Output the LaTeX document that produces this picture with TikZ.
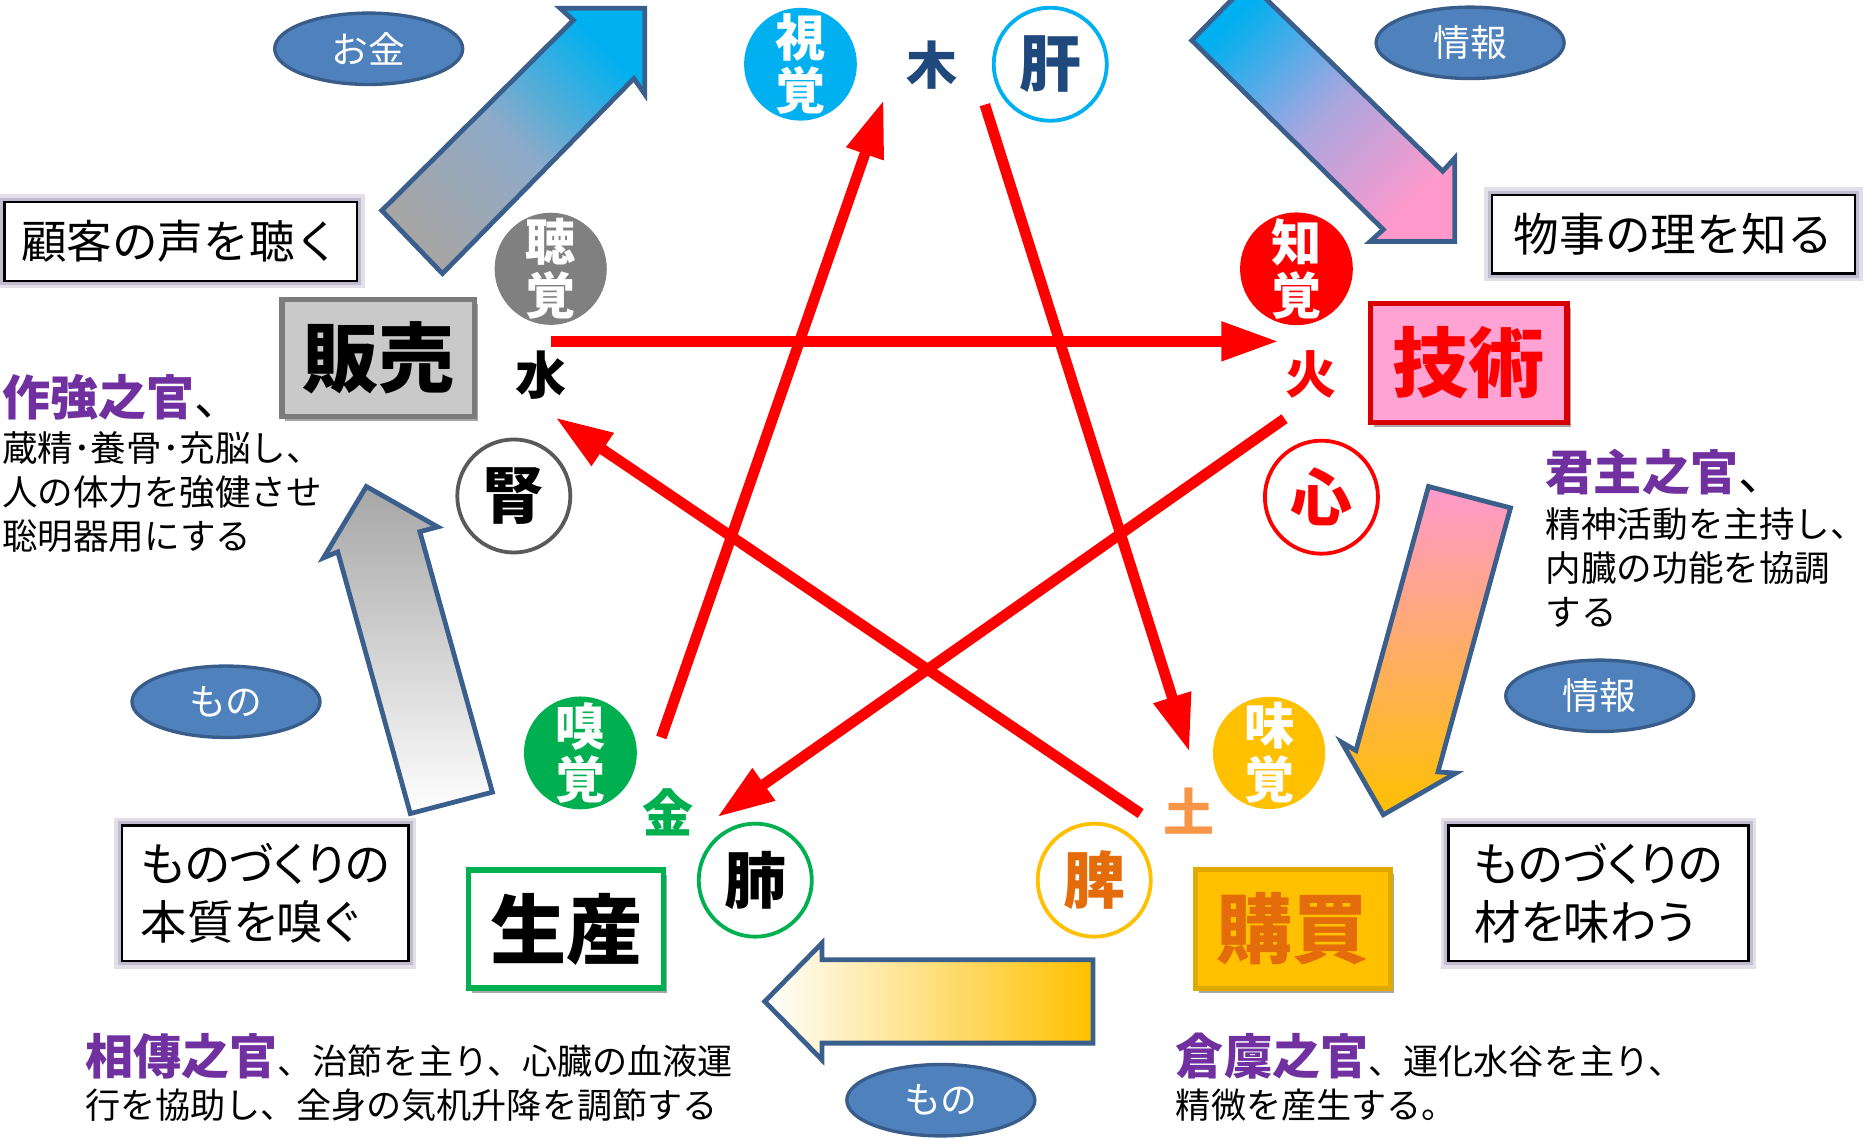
\documentclass[tikz,border=0pt]{standalone}
\usepackage{fontspec}
\setmainfont{Noto Sans CJK JP}
\newfontfamily\jpp{Noto Sans CJK JP}[RawFeature=+palt]
\usetikzlibrary{arrows.meta,shapes.geometric,shadows}
\definecolor{lblue}{HTML}{4F81BD}
\definecolor{lblueb}{HTML}{385D8A}
\definecolor{arrb}{HTML}{3B5F8D}
\definecolor{cyanc}{HTML}{00B0F0}
\definecolor{darkb}{HTML}{1F497D}
\definecolor{grayc}{HTML}{808080}
\definecolor{dgray}{HTML}{5A5A5A}
\definecolor{amber}{HTML}{FFC000}
\definecolor{orangec}{HTML}{E46C0A}
\definecolor{lorange}{HTML}{F79646}
\definecolor{greenc}{HTML}{00B050}
\definecolor{purp}{HTML}{7030A0}
\definecolor{pinkc}{HTML}{FF99CC}
\definecolor{pinkbox}{HTML}{FFA3D4}
\definecolor{glowc}{HTML}{B7B0C8}
\definecolor{redc}{HTML}{FF0000}
\definecolor{graybox}{HTML}{C9C9C9}
\definecolor{graybar}{HTML}{A6A6A6}
\definecolor{graybluemid}{HTML}{8EAAC8}
\definecolor{lavmid}{HTML}{A8A6DF}
\newcommand{\fsz}[2]{\fontsize{#1pt}{#2pt}\selectfont}
\begin{document}
\begin{tikzpicture}[x=0.01cm,y=-0.01cm,
  lab/.style={ellipse,fill=lblue,draw=lblueb,line width=0.028cm,minimum width=1.58cm,minimum height=0.6cm,inner sep=0,text=white,font=\fsz{8.8}{10}},
  sense/.style={circle,fill=#1,minimum size=0.94cm,inner sep=0,text=white,align=center,font=\fsz{12}{12.8}\bfseries},
  organ/.style={circle,draw=#1,line width=0.032cm,fill=white,minimum size=0.95cm,inner sep=0,font=\fsz{14.8}{16}\bfseries},
  elem/.style={inner sep=0,font=\fsz{12.2}{13}\bfseries},
  bevel/.style 2 args={rectangle,fill=#1,draw=#2,line width=0.045cm,inner sep=0,font=\fsz{18.2}{20}\bfseries,drop shadow={shadow xshift=0.03cm,shadow yshift=-0.04cm,opacity=0.35,fill=black}},
  tbox/.style={rectangle,fill=white,draw=black,line width=0.02cm,inner sep=0,align=left,preaction={draw=glowc!40,line width=0.13cm},preaction={draw=glowc!85,line width=0.07cm}},
  ttext/.style={inner sep=0,anchor=base west,align=left},
  blockarrow/.style={draw=arrb,line width=0.04cm,line join=miter},
  redarrow/.style={draw=redc,line width=0.09cm,-{Triangle[length=0.48cm,width=0.31cm]}}
]
\useasboundingbox (0,0) rectangle (1568,957);
\fill[white] (0,0) rectangle (1568,957);

% block arrows
\begin{scope}
\clip (0,0) rectangle (1568,957);
\path[blockarrow,top color=cyanc,bottom color=graybar,middle color=graybluemid,shading angle=-45]
  (321,177) -- (482,17) -- (471,7) -- (542,7) -- (542,79) -- (533,66) -- (372,230) -- cycle;
\path[blockarrow,top color=cyanc,bottom color=pinkc,middle color=lavmid,shading angle=45]
  (1002,34) -- (1050,-15) -- (1213,144) -- (1223,133) -- (1223,203) -- (1152,203) -- (1163,193) -- cycle;
\path[blockarrow,top color=pinkc,bottom color=amber,shading angle=0]
  (1201,409) -- (1270,427) -- (1209,649) -- (1224,650) -- (1163,685) -- (1128,624) -- (1140,631) -- cycle;
\path[blockarrow,left color=white,right color=amber]
  (919,807) -- (919,877) -- (691,877) -- (691,891) -- (643,842) -- (691,793) -- (691,807) -- cycle;
\path[blockarrow,top color=graybar,bottom color=white]
  (345,684) -- (284,464) -- (272,469) -- (308,409) -- (368,443) -- (353,447) -- (414,666) -- cycle;
\end{scope}

% red pentagram arrows
\coordinate (r1s) at (463,287); \coordinate (r1e) at (1075,287);
\coordinate (r2s) at (1080,352); \coordinate (r2e) at (603,687);
\coordinate (r3s) at (556,620); \coordinate (r3e) at (743,84);
\coordinate (r4s) at (828,88); \coordinate (r4e) at (1000,632);
\coordinate (r5s) at (959,684); \coordinate (r5e) at (467,351);
\draw[redarrow] (r1s) -- (r1e);
\draw[redarrow] (r2s) -- (r2e);
\draw[redarrow] (r3s) -- (r3e);
\draw[redarrow] (r4s) -- (r4e);
\draw[redarrow] (r5s) -- (r5e);

% text boxes
\node[tbox,minimum width=2.96cm,minimum height=0.66cm,font=\fsz{10.9}{13}] (kokyaku) at (152,203) {顧客の声を聴く};
\node[tbox,minimum width=3.05cm,minimum height=0.66cm,font=\fsz{10.9}{13}] (butsuji) at (1407,197) {物事の理を知る};
\node[tbox,minimum width=2.41cm,minimum height=1.14cm,font=\jpp\fsz{11.1}{13.7}] (honshitsu) at (223,751) {ものづくりの\\本質を嗅ぐ};
\node[tbox,minimum width=2.52cm,minimum height=1.14cm,font=\jpp\fsz{11.1}{13.7}] (zai) at (1344,751) {ものづくりの\\材を味わう};

% labels
\node[lab] (okane) at (310,41) {お金};
\node[lab] (joho1) at (1236,36) {情報};
\node[lab] (mono1) at (190,590) {もの};
\node[lab] (joho2) at (1345,585) {情報};
\node[lab] (mono2) at (791,925) {もの};

% sense circles
\node[sense=cyanc] (shikaku) at (673,54) {視\\覚};
\node[sense=grayc] (choukaku) at (463,226) {聴\\覚};
\node[sense=redc] (chikaku) at (1090,226) {知\\覚};
\node[sense=amber] (mikaku) at (1067,633) {味\\覚};
\node[sense=greenc] (kyuukaku) at (488,633) {嗅\\覚};

% organ circles
\node[organ=cyanc,text=darkb] (kan) at (883,54) {肝};
\node[organ=dgray] (jin) at (432,417) {腎};
\node[organ=redc,text=redc] (shin) at (1111,418) {心};
\node[organ=amber,text=orangec] (hizo) at (920,740) {脾};
\node[organ=greenc] (hai) at (635,740) {肺};

% elements
\node[elem,text=darkb] (moku) at (784,55) {木};
\node[elem] (sui) at (455,315) {水};
\node[elem,text=redc] (ka) at (1102,315) {火};
\node[elem,text=lorange] (tsuchi) at (1000,682) {土};
\node[elem,text=greenc] (kin) at (562,683) {金};

% bevel boxes
\node[bevel={graybox}{dgray!80},minimum width=1.62cm,minimum height=0.98cm] (hanbai) at (318,301) {販売};
\node[bevel={pinkbox}{red!85!black},text=redc,minimum width=1.65cm,minimum height=1.0cm] (gijutsu) at (1235,305) {技術};
\node[bevel={white}{greenc},minimum width=1.64cm,minimum height=0.99cm] (seisan) at (476,781) {生産};
\node[bevel={amber}{amber!88!black},text=orangec,minimum width=1.64cm,minimum height=1.0cm] (koubai) at (1087,781) {購買};

% descriptive texts (multi-line nodes: base = last line)
\node[ttext,font=\fsz{11.5}{13}] (sakyo) at (1,349) {{\color{purp}\bfseries 作強之官}、};
\node[ttext,font=\fsz{8.5}{10.5}] (sakyob) at (1,462) {蔵精･養骨･充脳し、\\人の体力を強健させ\\聡明器用にする};
\node[ttext,font=\fsz{11.5}{13}] (kunshu) at (1299,412) {{\color{purp}\bfseries 君主之官}、};
\node[ttext,font=\fsz{8.5}{10.5}] (kunshub) at (1299,526) {精神活動を主持し、\\内臓の功能を協調\\する};
\node[ttext] (soufu) at (71,903) {{\fsz{11.5}{13}\color{purp}\bfseries 相傳之官}{\fsz{8.4}{10.5}、治節を主り、心臓の血液運}};
\node[ttext,font=\fsz{8.4}{10.5}] (soufub) at (71,940) {行を協助し、全身の気机升降を調節する};
\node[ttext] (souryo) at (988,903) {{\fsz{11.5}{13}\color{purp}\bfseries 倉廩之官}{\fsz{8.4}{10.5}、運化水谷を主り、}};
\node[ttext,font=\fsz{8.4}{10.5}] (souryob) at (988,940) {精微を産生する。};
\end{tikzpicture}
\end{document}
